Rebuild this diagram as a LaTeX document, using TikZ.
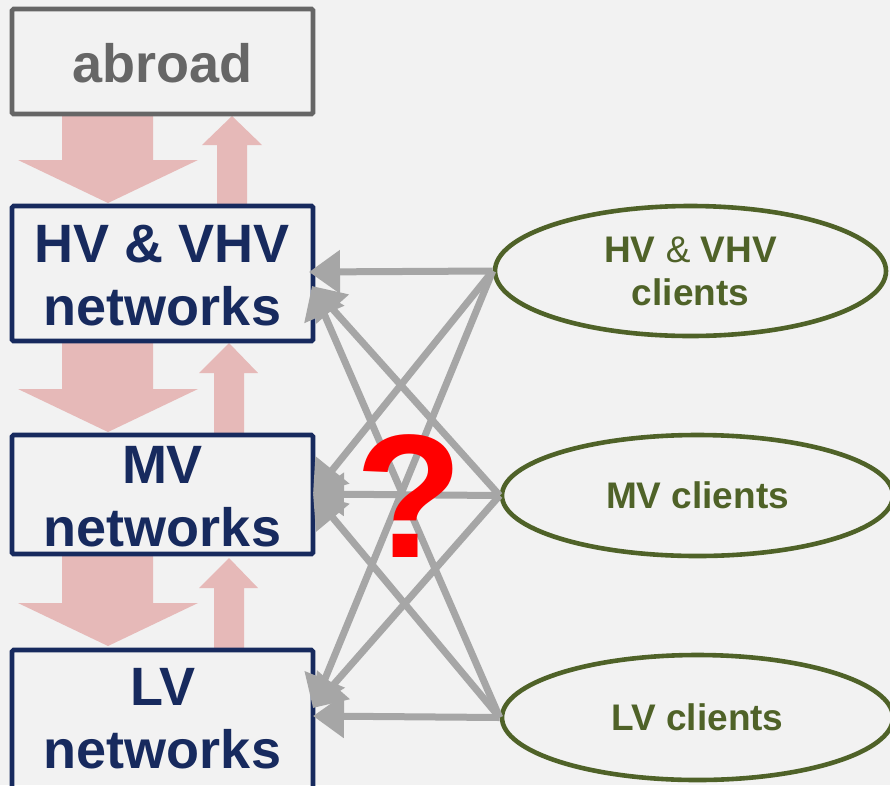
\documentclass[tikz,border=0pt]{standalone}
\usepackage{fontspec}
\setmainfont{Liberation Sans}
\usetikzlibrary{shapes.geometric,arrows.meta}
\definecolor{bgc}{HTML}{F2F2F2}
\definecolor{pinkc}{HTML}{E6B9B8}
\definecolor{abgray}{HTML}{666666}
\definecolor{navyc}{HTML}{172A5E}
\definecolor{olivec}{HTML}{4F6228}
\definecolor{arrgray}{HTML}{A6A6A6}
\definecolor{qred}{HTML}{FF0000}
\begin{document}
\begin{tikzpicture}[x=1pt,y=-1pt,
  netbox/.style={draw=navyc, line width=4.6pt, rounded corners=1.5pt, minimum width=301pt, inner sep=0pt},
  bigtxt/.style={font=\bfseries\fontsize{54}{63}\selectfont, text=navyc, anchor=base, inner sep=0pt},
  client/.style={ellipse, draw=olivec, line width=4.6pt, inner sep=0pt, minimum width=391pt, text=olivec, align=center, font=\bfseries\fontsize{37}{43}\selectfont},
  flow/.style={draw=arrgray, line width=7pt, -{Triangle[length=31pt,width=42pt]}},
  pinkarrow/.style={fill=pinkc, draw=none}]
\useasboundingbox (0,0) rectangle (890,785);
\fill[bgc] (0,0) rectangle (890,785);
\clip (0,0) rectangle (890,785);
% pink flow arrows
\fill[pinkarrow] (62,116) -- (153,116) -- (153,160) -- (198,160) -- (108,203) -- (18,160) -- (62,160) -- cycle;
\fill[pinkarrow] (217,206) -- (217,145) -- (202,145) -- (232,116) -- (262,145) -- (247,145) -- (247,206) -- cycle;
\fill[pinkarrow] (62,343) -- (153,343) -- (153,389) -- (198,389) -- (108,432) -- (18,389) -- (62,389) -- cycle;
\fill[pinkarrow] (214,434) -- (214,373) -- (199,373) -- (229,343) -- (258,373) -- (244,373) -- (244,434) -- cycle;
\fill[pinkarrow] (62,555) -- (153,555) -- (153,603) -- (198,603) -- (108,646) -- (18,603) -- (62,603) -- cycle;
\fill[pinkarrow] (214,649) -- (214,588) -- (199,588) -- (229,558) -- (258,588) -- (244,588) -- (244,649) -- cycle;
% boxes
\node[netbox, draw=abgray, minimum height=105pt] (abroad) at (162.5,61.5) {};
\node[netbox, minimum height=135pt] (hv) at (162.5,273.5) {};
\node[netbox, minimum height=119pt] (mv) at (162.5,494.5) {};
\node[netbox, minimum height=160pt] (lv) at (162.5,730) {};
% box texts
\node[bigtxt, text=abgray] (abroadt) at (162.5,82) {abroad};
\node[bigtxt] (hvt1) at (162.5,262) {HV \& VHV};
\node[bigtxt] (hvt2) at (162.5,325) {networks};
\node[bigtxt] (mvt1) at (162.5,483) {MV};
\node[bigtxt] (mvt2) at (162.5,546) {networks};
\node[bigtxt] (lvt1) at (162.5,705) {LV};
\node[bigtxt] (lvt2) at (162.5,768) {networks};
% client ellipses
\node[client, minimum height=130pt] (hvc) at (690.5,271) {HV {\mdseries\&} VHV\\clients};
\node[client, minimum height=121pt] (mvc) at (697.5,495.5) {MV clients};
\node[client, minimum height=125pt] (lvc) at (697.5,717.5) {LV clients};
% arrow targets
\coordinate (hvA) at (309,272);
\coordinate (hvB) at (312,286);
\coordinate (mvA) at (313,494);
\coordinate (lvA) at (313,716);
\coordinate (lvB) at (313,708);
% gray connectors
\draw[flow] (hvc.west) -- (hvA);
\draw[flow] (mvc.west) -- (hvB);
\draw[flow] (lvc.west) -- (hvB);
\draw[flow] (hvc.west) -- (mvA);
\draw[flow] (mvc.west) -- (mvA);
\draw[flow] (lvc.west) -- (mvA);
\draw[flow] (hvc.west) -- (lvB);
\draw[flow] (mvc.west) -- (lvB);
\draw[flow] (lvc.west) -- (lvA);
% question mark
\node[font=\bfseries\fontsize{176}{176}\selectfont, text=qred, anchor=base, inner sep=0pt] (q) at (409,557) {?};
\end{tikzpicture}
\end{document}
